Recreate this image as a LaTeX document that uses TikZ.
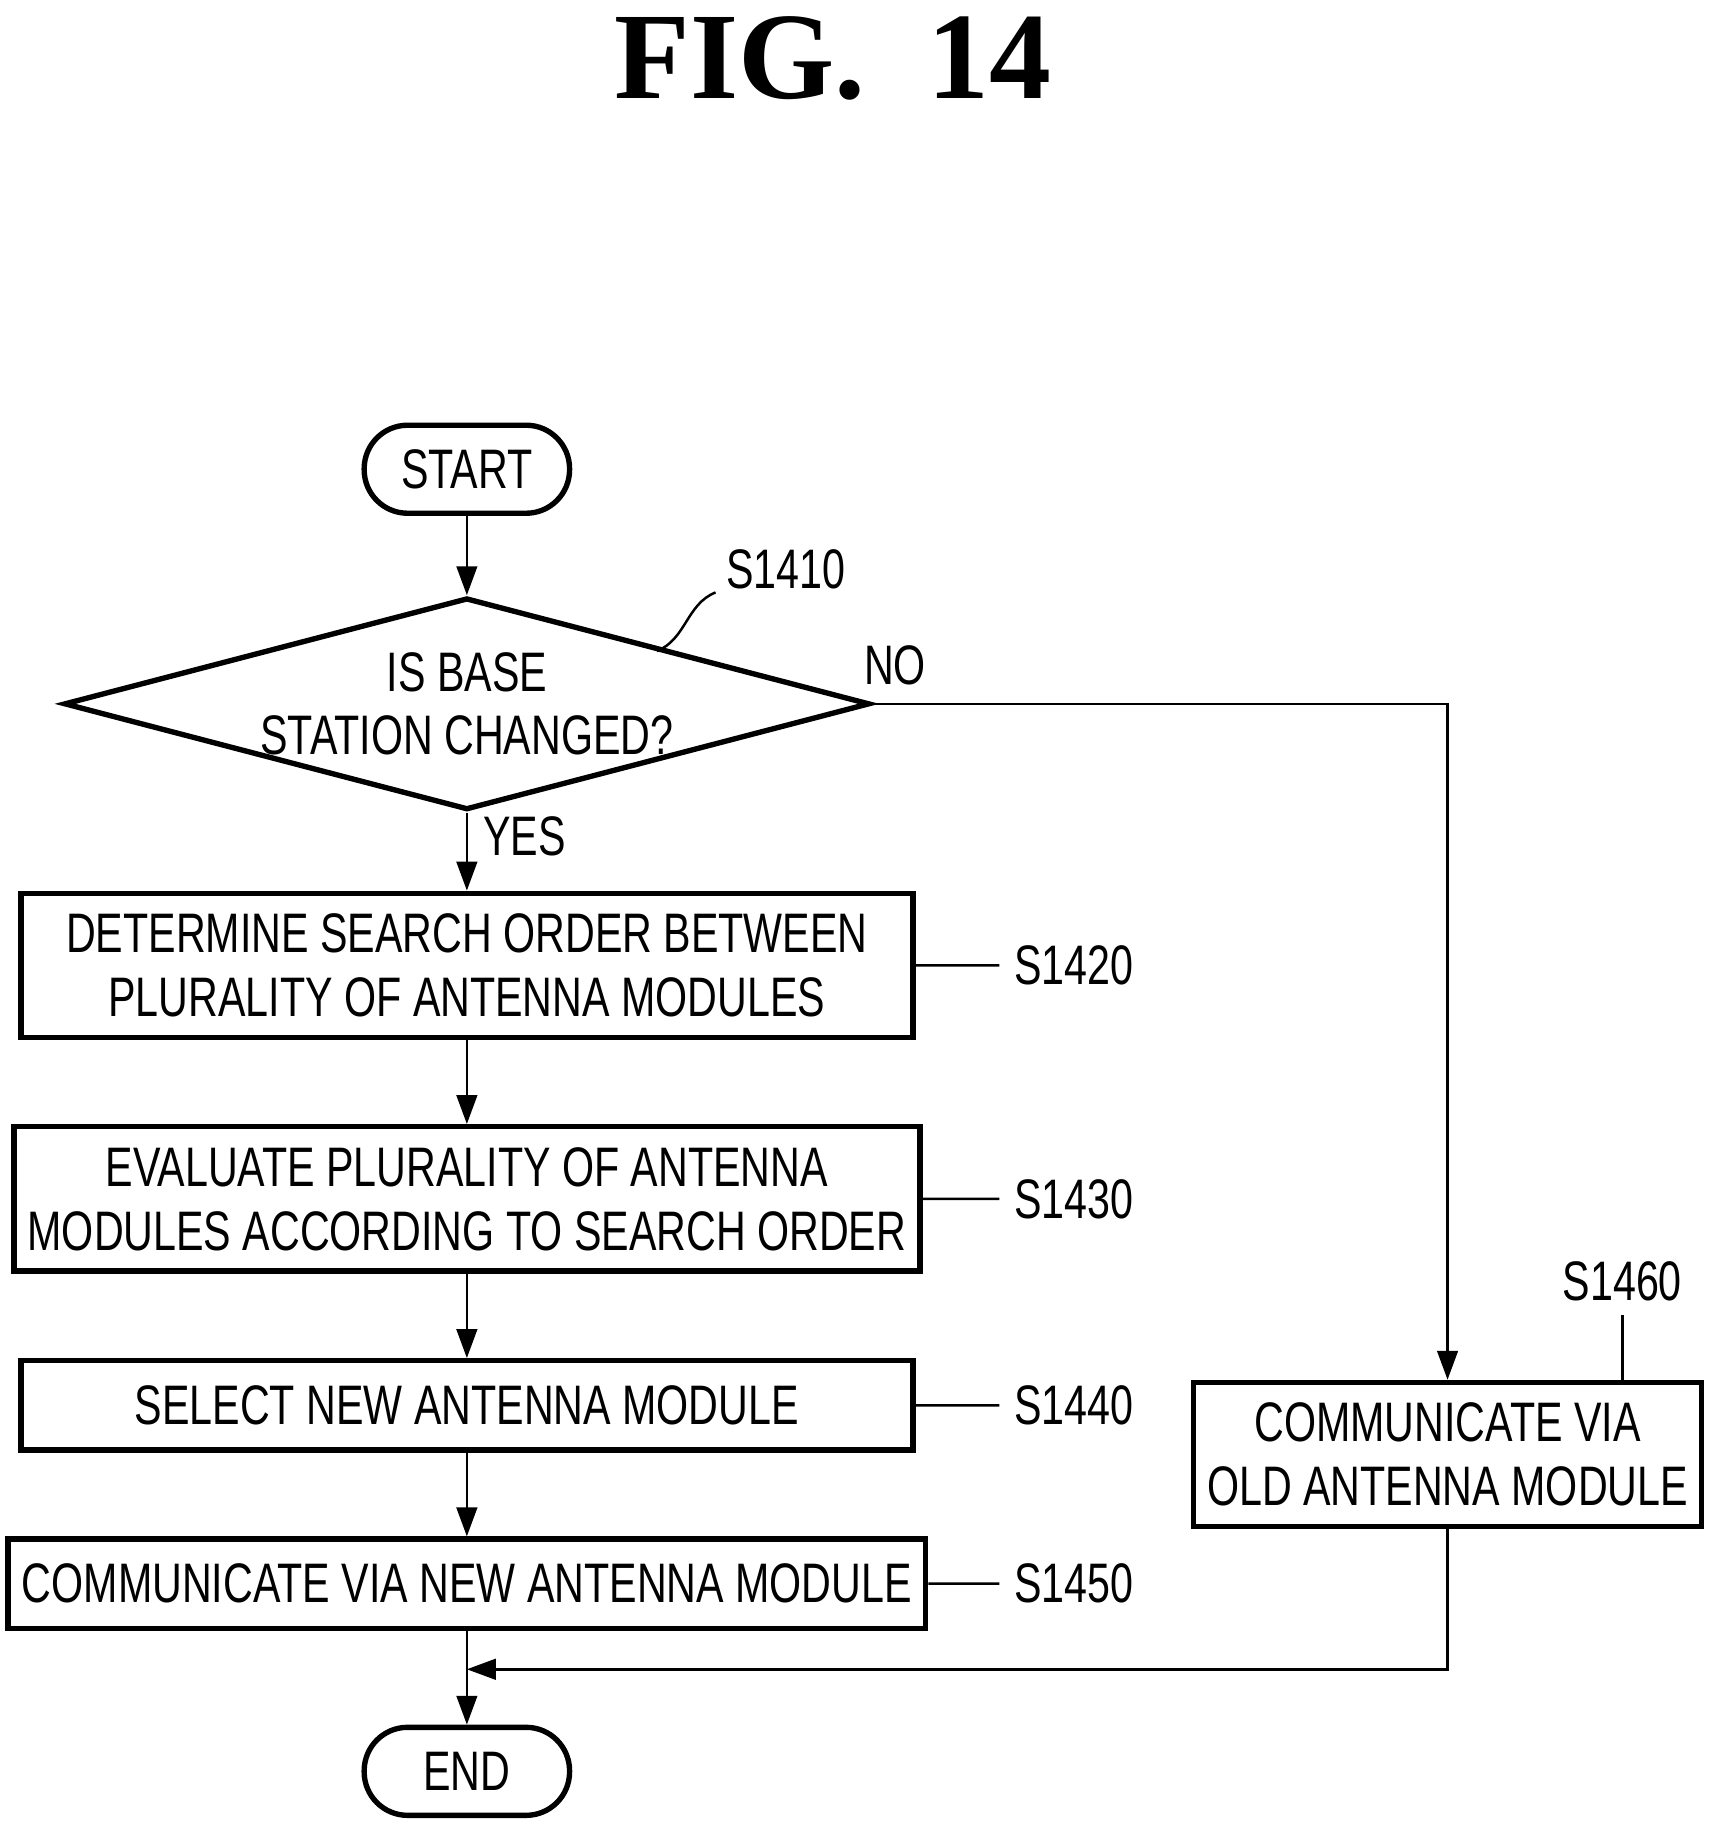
\documentclass[tikz,border=0pt]{standalone}
\usepackage{fontspec}
\setmainfont{Liberation Sans}[FakeStretch=0.74]
\newfontfamily\figfont{Liberation Serif}[FakeStretch=1.0]
\usetikzlibrary{shapes.geometric,arrows.meta}
\tikzset{
  box/.style={draw, line width=1.3pt, minimum width=7.6cm, align=center, font=\fontsize{13.5}{15.5}\selectfont},
  term/.style={draw, line width=1.3pt, rounded corners=0.37cm, minimum width=1.75cm, minimum height=0.75cm, font=\fontsize{13.5}{15.5}\selectfont},
  lbl/.style={font=\fontsize{13.5}{15.5}\selectfont},
  flow/.style={line width=0.6pt, -{Triangle[length=7pt,width=5pt]}},
  lead/.style={line width=0.6pt}
}
\begin{document}
\begin{tikzpicture}[x=0.01cm,y=-0.01cm]
  \useasboundingbox (0,0) rectangle (1460,1566);
  \node [font=\figfont\bfseries\fontsize{30}{32}\selectfont] (fig) at (710,50) {FIG.\ \ 14};

  \node [term] (start) at (398,400) {START};
  \node [diamond, draw, line width=1.3pt, minimum width=6.42cm, minimum height=1.7cm, inner sep=0pt, aspect=3.8, align=center, font=\fontsize{13.5}{15.5}\selectfont] (d1) at (398,600) {IS BASE\\STATION CHANGED?};
  \node [box, minimum height=1.23cm] (b1) at (398,823) {DETERMINE SEARCH ORDER BETWEEN\\PLURALITY OF ANTENNA MODULES};
  \node [box, minimum height=1.23cm] (b2) at (398,1022) {EVALUATE PLURALITY OF ANTENNA\\MODULES ACCORDING TO SEARCH ORDER};
  \node [box, minimum height=0.76cm] (b3) at (398,1198) {SELECT NEW ANTENNA MODULE};
  \node [box, minimum height=0.76cm] (b4) at (398,1350) {COMMUNICATE VIA NEW ANTENNA MODULE};
  \node [box, minimum width=4.18cm, minimum height=1.23cm] (b6) at (1234,1240) {COMMUNICATE VIA\\OLD ANTENNA MODULE};
  \node [term] (end) at (398,1510) {END};

  % step labels
  \node [lbl] (s1410) at (670,485) {S1410};
  \node [lbl, anchor=west] (s1420) at (852,823) {S1420};
  \node [lbl, anchor=west] (s1430) at (852,1022) {S1430};
  \node [lbl, anchor=west] (s1440) at (852,1198) {S1440};
  \node [lbl, anchor=west] (s1450) at (852,1350) {S1450};
  \node [lbl] (s1460) at (1383,1092) {S1460};
  \node [lbl] (no) at (763,567) {NO};
  \node [lbl] (yes) at (447,713) {YES};

  \draw [lead] (560,555) .. controls (585,545) and (585,515) .. (610,505);
  \foreach \b/\s in {b1/s1420,b2/s1430,b3/s1440,b4/s1450}
    \draw [lead] (\b.east) .. controls +(0.4,0.03) and +(-0.35,-0.03) .. (\s.west);
  \draw [lead] (b6.north -| s1460) .. controls +(0,-0.3) and +(0,0.25) .. (s1460.south);

  % connectors
  \draw [flow] (start) -- (d1);
  \draw [flow] (d1) -- (b1);
  \draw [flow] (b1) -- (b2);
  \draw [flow] (b2) -- (b3);
  \draw [flow] (b3) -- (b4);
  \draw [flow] (b4) -- (end);
  \draw [flow] (d1.east) -| (b6.north);
  \coordinate (m) at (398,1423);
  \draw [flow] (b6.south) |- (m);
\end{tikzpicture}
\end{document}
